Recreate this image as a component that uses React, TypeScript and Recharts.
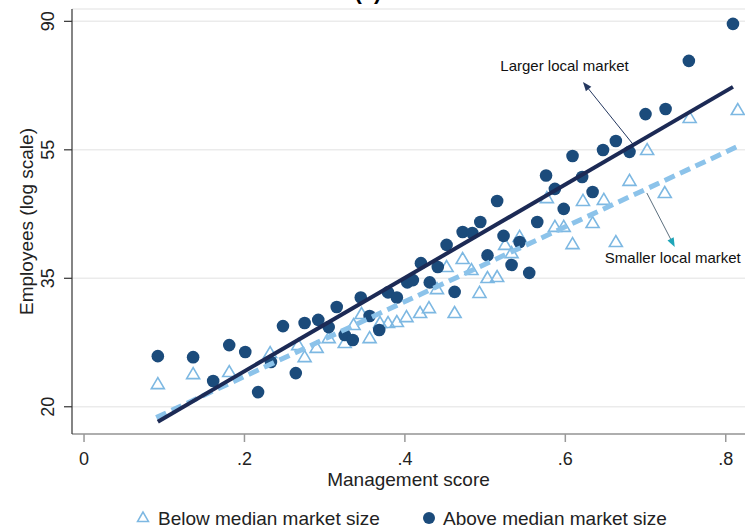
import { ScatterChart, Scatter, XAxis, YAxis, CartesianGrid, ReferenceLine, ReferenceDot, Legend, Label } from 'recharts';

const FONT = '"Liberation Sans", Arial, sans-serif';

// management score vs log(employees)
const belowScore = [0.092, 0.136, 0.181, 0.232, 0.267, 0.275, 0.290, 0.305, 0.325, 0.336, 0.346, 0.356, 0.369, 0.379, 0.390, 0.402, 0.419, 0.430, 0.440, 0.452, 0.462, 0.472, 0.483, 0.493, 0.503, 0.515, 0.525, 0.533, 0.543, 0.577, 0.587, 0.598, 0.609, 0.622, 0.634, 0.648, 0.663, 0.680, 0.702, 0.724, 0.755, 0.815];
const belowLogEmp = [3.088, 3.127, 3.135, 3.209, 3.240, 3.193, 3.229, 3.267, 3.248, 3.318, 3.361, 3.267, 3.326, 3.326, 3.330, 3.349, 3.365, 3.384, 3.458, 3.544, 3.365, 3.575, 3.532, 3.443, 3.501, 3.505, 3.630, 3.598, 3.661, 3.812, 3.700, 3.700, 3.633, 3.801, 3.715, 3.805, 3.641, 3.879, 3.999, 3.832, 4.124, 4.155];

const aboveScore = [0.092, 0.136, 0.161, 0.181, 0.201, 0.217, 0.233, 0.248, 0.264, 0.275, 0.292, 0.305, 0.315, 0.325, 0.335, 0.345, 0.356, 0.368, 0.379, 0.390, 0.403, 0.410, 0.420, 0.431, 0.441, 0.452, 0.462, 0.472, 0.484, 0.494, 0.503, 0.515, 0.523, 0.533, 0.543, 0.555, 0.565, 0.576, 0.587, 0.598, 0.609, 0.621, 0.634, 0.647, 0.663, 0.680, 0.700, 0.725, 0.754, 0.809];
const aboveLogEmp = [3.197, 3.193, 3.100, 3.240, 3.213, 3.057, 3.174, 3.314, 3.131, 3.326, 3.338, 3.310, 3.388, 3.279, 3.260, 3.425, 3.353, 3.299, 3.445, 3.425, 3.484, 3.493, 3.559, 3.484, 3.544, 3.630, 3.447, 3.680, 3.676, 3.719, 3.589, 3.801, 3.665, 3.552, 3.641, 3.521, 3.719, 3.900, 3.848, 3.770, 3.976, 3.894, 3.836, 3.999, 4.034, 3.992, 4.139, 4.159, 4.346, 4.490];

// linear fits (end points)
const fitAboveScore = [0.092, 0.809];
const fitAboveLogEmp = [2.942, 4.245];
const fitBelowScore = [0.090, 0.814];
const fitBelowLogEmp = [2.958, 4.012];

const xTicks = [0, 0.2, 0.4, 0.6, 0.8];
const xTickLabels = ['0', '.2', '.4', '.6', '.8'];
const yTicks = [3, 3.5, 4, 4.5];
const yTickLabels = ['20', '35', '55', '90'];

const seriesNames = ['Below median market size', 'Above median market size'];

const toPoints = (xs: number[], ys: number[]) => xs.map((x, i) => ({ x, y: ys[i] }));

const belowData = toPoints(belowScore, belowLogEmp);
const aboveData = toPoints(aboveScore, aboveLogEmp);
const fitAbove = toPoints(fitAboveScore, fitAboveLogEmp);
const fitBelow = toPoints(fitBelowScore, fitBelowLogEmp);

const CIRCLE = '#1b4b7b';
const TRIANGLE = '#7db8e2';
const SOLID = '#1c2a55';
const DASHED = '#8cc3ea';

const Triangle = (p: any) => (
  <polygon
    points={`${p.cx},${p.cy - 6.5} ${p.cx - 6.5},${p.cy + 4.5} ${p.cx + 6.5},${p.cy + 4.5}`}
    fill="none"
    stroke={TRIANGLE}
    strokeWidth={1.6}
  />
);

const Circle = (p: any) => <circle cx={p.cx} cy={p.cy} r={6.3} fill={CIRCLE} />;

const arrow = (lineColor: string, headColor: string) => (p: any) => {
  const { x1, y1, x2, y2 } = p;
  const a = Math.atan2(y2 - y1, x2 - x1);
  const len = 9;
  const w = 3.5;
  const bx = x2 - len * Math.cos(a);
  const by = y2 - len * Math.sin(a);
  const px = -Math.sin(a) * w;
  const py = Math.cos(a) * w;
  return (
    <g>
      <line x1={x1} y1={y1} x2={bx} y2={by} stroke={lineColor} strokeWidth={1} />
      <polygon points={`${x2},${y2} ${bx + px},${by + py} ${bx - px},${by - py}`} fill={headColor} />
    </g>
  );
};

const YTick = (props: any) => {
  const { x, y, payload } = props;
  const bx = x - 8;
  return (
    <text
      x={bx}
      y={y}
      transform={`rotate(-90, ${bx}, ${y})`}
      textAnchor="middle"
      fontSize={18}
      fontFamily={FONT}
      fill="#222"
    >
      {yTickLabels[yTicks.indexOf(payload.value)]}
    </text>
  );
};

const renderLegend = () => (
  <div style={{ position: 'relative', height: 30, fontFamily: FONT, fontSize: 19, color: '#222' }}>
    <svg width={745} height={30} style={{ position: 'absolute', left: 0, top: 0 }}>
      <polygon points="143,12 137.5,21.5 148.5,21.5" fill="none" stroke={TRIANGLE} strokeWidth={1.5} />
      <circle cx={429} cy={18} r={6} fill={CIRCLE} />
    </svg>
    <span style={{ position: 'absolute', left: 158, top: 9, lineHeight: '19px', whiteSpace: 'nowrap' }}>{seriesNames[0]}</span>
    <span style={{ position: 'absolute', left: 443, top: 9, lineHeight: '19px', whiteSpace: 'nowrap' }}>{seriesNames[1]}</span>
  </div>
);

export default function App() {
  return (
    <div style={{ position: 'absolute', left: 0, top: 0, width: 745, height: 530, background: '#fff' }}>
      <div
        style={{
          position: 'absolute',
          top: -19,
          left: 368,
          transform: 'translateX(-50%)',
          fontFamily: FONT,
          fontWeight: 'bold',
          fontSize: 22,
          lineHeight: '22px',
          zIndex: 2,
        }}
      >
        (a)
      </div>
      <ScatterChart width={745} height={530} margin={{ top: 9, right: 0, bottom: 0, left: 0 }}>
        <CartesianGrid horizontal vertical={false} stroke="#ebebeb" strokeWidth={1.5} />
        <XAxis
          type="number"
          dataKey="x"
          domain={[-0.015, 0.824]}
          allowDataOverflow
          ticks={xTicks}
          tickFormatter={(v: number) => xTickLabels[xTicks.indexOf(v)]}
          height={66}
          tickSize={8}
          tickMargin={10}
          stroke="#999"
          strokeWidth={1.5}
          tick={{ fontSize: 18, fontFamily: FONT, fill: '#222' }}
        >
          <Label
            content={(p: any) => {
              const vb = p.viewBox || { x: 72, y: 434, width: 673 };
              return (
                <text x={vb.x + vb.width / 2} y={vb.y + 52} textAnchor="middle" fontSize={19} fontFamily={FONT} fill="#222">
                  Management score
                </text>
              );
            }}
          />
        </XAxis>
        <YAxis
          type="number"
          dataKey="y"
          domain={[2.894, 4.548]}
          allowDataOverflow
          ticks={yTicks}
          width={72}
          tickSize={8}
          tickMargin={2}
          stroke="#333"
          strokeWidth={1.2}
          tick={<YTick />}
        >
          <Label
            content={(p: any) => {
              const vb = p.viewBox || { x: 0, y: 9, height: 425 };
              const cy = vb.y + vb.height / 2;
              return (
                <text x={33} y={cy} transform={`rotate(-90, 33, ${cy})`} textAnchor="middle" fontSize={19} fontFamily={FONT} fill="#222">
                  Employees (log scale)
                </text>
              );
            }}
          />
        </YAxis>
        <Legend verticalAlign="bottom" align="left" height={30} content={renderLegend} />
        <Scatter name={seriesNames[0]} data={belowData} shape={Triangle} isAnimationActive={false} />
        <Scatter name={seriesNames[1]} data={aboveData} shape={Circle} isAnimationActive={false} />
        <Scatter
          data={fitBelow}
          line={{ stroke: DASHED, strokeWidth: 5, strokeDasharray: '11 6' }}
          shape={() => <g />}
          legendType="none"
          isAnimationActive={false}
        />
        <Scatter
          data={fitAbove}
          line={{ stroke: SOLID, strokeWidth: 4 }}
          shape={() => <g />}
          legendType="none"
          isAnimationActive={false}
        />
        <ReferenceLine segment={[{ x: 0.684, y: 4.023 }, { x: 0.622, y: 4.264 }]} shape={arrow('#24375f', '#24375f')} />
        <ReferenceLine segment={[{ x: 0.7016, y: 3.832 }, { x: 0.7364, y: 3.622 }]} shape={arrow('#5c6f7e', '#1fa5b8')} />
        <ReferenceDot
          x={0.599}
          y={4.326}
          r={1}
          fill="none"
          stroke="none"
          label={{ value: 'Larger local market', position: 'center', fontSize: 15, fontFamily: FONT, fill: '#111' }}
        />
        <ReferenceDot
          x={0.734}
          y={3.579}
          r={1}
          fill="none"
          stroke="none"
          label={{ value: 'Smaller local market', position: 'center', fontSize: 15, fontFamily: FONT, fill: '#111' }}
        />
      </ScatterChart>
    </div>
  );
}
